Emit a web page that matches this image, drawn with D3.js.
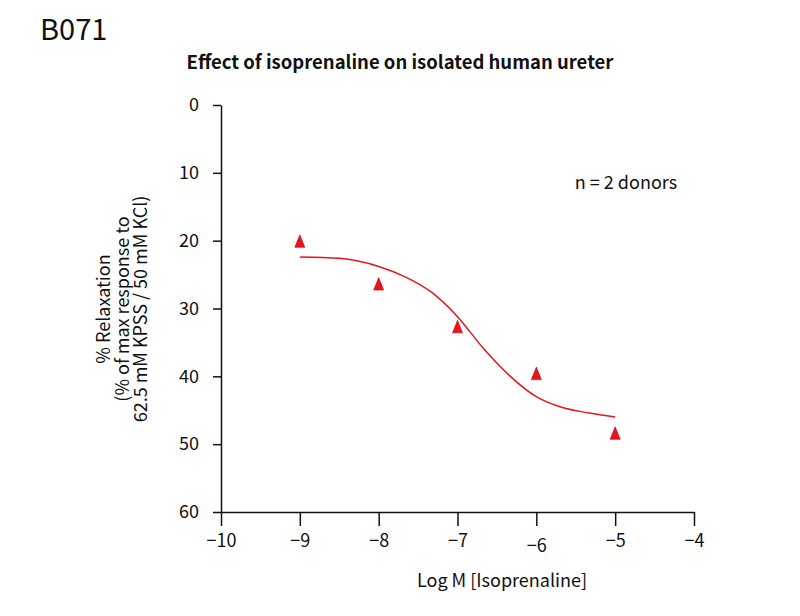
<!DOCTYPE html>
<html>
<head>
<meta charset="utf-8">
<script src="https://cdn.jsdelivr.net/npm/d3@7"></script>
<style>
  body { margin: 0; background: #fff; }
  svg text { font-family: "Noto Sans CJK JP", "Noto Sans", sans-serif; fill: #111; }
</style>
</head>
<body>
<div id="chart"></div>
<script>
// Measured points (log M, % relaxation)
const pointX = [-9, -8, -7, -6, -5];
const pointY = [20.1, 26.4, 32.7, 39.6, 48.4];

// Fitted curve
const curveX = [-9, -8.5, -8, -7.67, -7.33, -7, -6.67, -6.33, -6, -5.67, -5.33, -5];
const curveY = [22.4, 22.6, 23.8, 25.3, 27.6, 31.2, 35.9, 40.0, 43.0, 44.6, 45.4, 46.0];

const xTicks = [-10, -9, -8, -7, -6, -5, -4];
const yTicks = [0, 10, 20, 30, 40, 50, 60];

const width = 800;
const height = 616;
const margin = { top: 105, right: 106, bottom: 104, left: 221 };
const red = '#e8141c';
const font = '"Noto Sans CJK JP", "Noto Sans", sans-serif';

const svg = d3.select('#chart')
  .append('svg')
  .attr('width', width)
  .attr('height', height);

const x = d3.scaleLinear()
  .domain([-10, -4])
  .range([margin.left, width - margin.right]);

const y = d3.scaleLinear()
  .domain([0, 60])
  .range([margin.top, height - margin.bottom]);

// Axes
const xAxis = svg.append('g')
  .attr('transform', `translate(0,${height - margin.bottom})`)
  .call(d3.axisBottom(x).tickValues(xTicks).tickFormat(d3.format('d'))
    .tickSize(14).tickSizeOuter(0).tickPadding(8));

const yAxis = svg.append('g')
  .attr('transform', `translate(${margin.left},0)`)
  .call(d3.axisLeft(y).tickValues(yTicks).tickFormat(d3.format('d'))
    .tickSize(8).tickSizeOuter(0).tickPadding(14));

[xAxis, yAxis].forEach((g) => {
  g.selectAll('path, line').attr('stroke', '#111').attr('stroke-width', 1.5);
  g.selectAll('text').style('font-size', '18px').style('font-family', font).attr('fill', '#111');
});

// the -6 label sits a little lower in the original
xAxis.selectAll('.tick')
  .filter((d) => d === -6)
  .select('text')
  .attr('dy', '0.98em');

// Curve
const line = d3.line()
  .x((d) => x(d[0]))
  .y((d) => y(d[1]))
  .curve(d3.curveMonotoneX);

svg.append('path')
  .datum(curveX.map((v, i) => [v, curveY[i]]))
  .attr('fill', 'none')
  .attr('stroke', red)
  .attr('stroke-width', 1.5)
  .attr('d', line);

// Triangle markers
const tri = 'M0,-6.5L5,6L-5,6Z';
svg.selectAll('.pt')
  .data(pointX.map((v, i) => [v, pointY[i]]))
  .enter()
  .append('path')
  .attr('class', 'pt')
  .attr('d', tri)
  .attr('transform', (d) => `translate(${x(d[0])},${y(d[1])})`)
  .attr('fill', red)
  .attr('stroke', '#c40010')
  .attr('stroke-width', 0.6);

// Texts
svg.append('text')
  .attr('x', 40)
  .attr('y', 40)
  .style('font-size', '29px')
  .text('B071');

svg.append('text')
  .attr('x', 400)
  .attr('y', 69)
  .attr('text-anchor', 'middle')
  .style('font-size', '18.5px')
  .style('font-weight', 'bold')
  .text('Effect of isoprenaline on isolated human ureter');

svg.append('text')
  .attr('x', 626)
  .attr('y', 189)
  .attr('text-anchor', 'middle')
  .style('font-size', '18px')
  .text('n = 2 donors');

svg.append('text')
  .attr('x', 502)
  .attr('y', 587)
  .attr('text-anchor', 'middle')
  .style('font-size', '18px')
  .text('Log M [Isoprenaline]');

const yLabel = ['% Relaxation', '(% of max response to', '62.5 mM KPSS / 50 mM KCl)'];
const yl = svg.append('text')
  .attr('transform', 'translate(110,309) rotate(-90)')
  .attr('text-anchor', 'middle')
  .style('font-size', '18px');
yLabel.forEach((t, i) => {
  yl.append('tspan')
    .attr('x', 0)
    .attr('dy', i === 0 ? 0 : 18.5)
    .text(t);
});
</script>
</body>
</html>
